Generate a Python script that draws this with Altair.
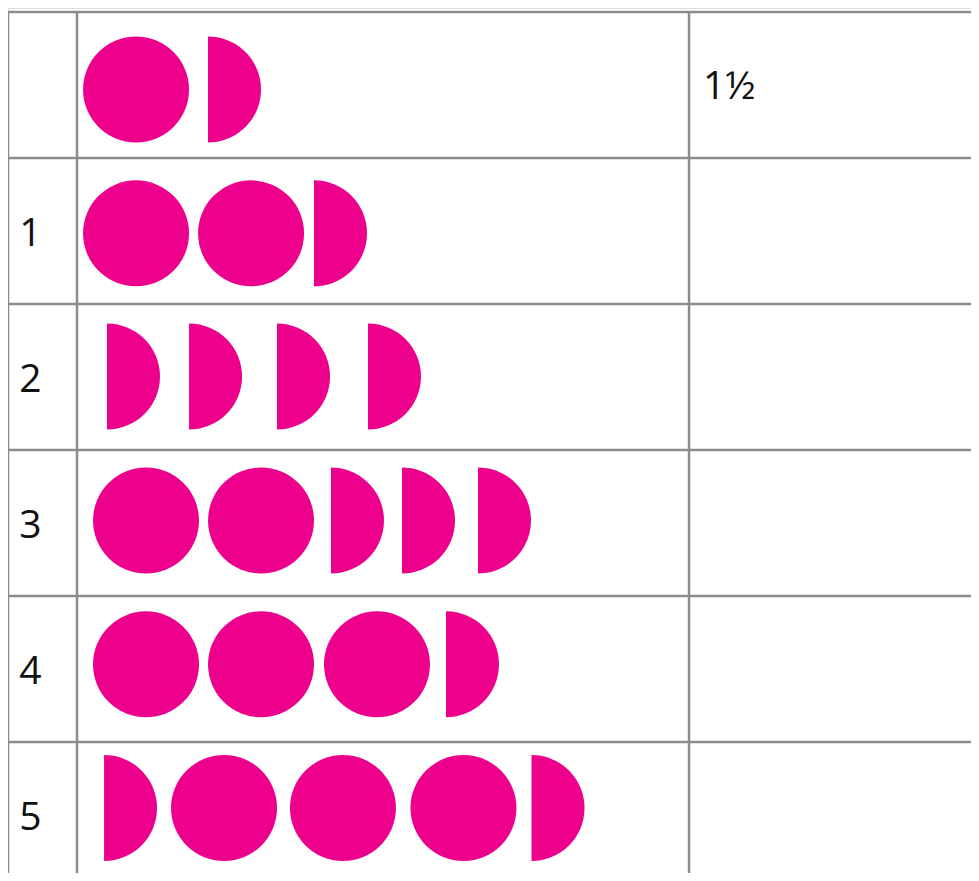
import altair as alt
import pandas as pd

# ---- data ----
row_labels = ["", "1", "2", "3", "4", "5"]
answers = ["1½", "", "", "", "", ""]

# kind of each piece in a row: a whole disc or a half disc
row_kinds = [
    ["whole", "half"],
    ["whole", "whole", "half"],
    ["half", "half", "half", "half"],
    ["whole", "whole", "half", "half", "half"],
    ["whole", "whole", "whole", "half"],
    ["half", "whole", "whole", "whole", "half"],
]
# horizontal place of each piece, in disc diameters from the first column line
row_slots = [
    [0.557, 1.236],
    [0.557, 1.642, 2.236],
    [0.283, 1.057, 1.887, 2.745],
    [0.651, 1.736, 2.396, 3.066, 3.783],
    [0.651, 1.736, 2.830, 3.481],
    [0.255, 1.387, 2.509, 3.646, 4.288],
]
# vertical middle of the pieces of each row, in row units
row_centres = [0.531, 1.516, 2.497, 3.483, 4.468, 5.452]

column_edges = [-0.651, 0.0, 5.774]
row_edges = [0, 1, 2, 3, 4, 5]

# ---- tables ----
pieces = pd.DataFrame(
    [
        {"row": r, "kind": k, "slot": s, "centre": row_centres[r]}
        for r, (kinds, slots) in enumerate(zip(row_kinds, row_slots))
        for k, s in zip(kinds, slots)
    ]
)
labels = pd.DataFrame(
    {"label": row_labels, "answer": answers, "mid": [i + 0.5 for i in range(len(row_labels))]}
)
vlines = pd.DataFrame({"x": column_edges, "y0": [0] * len(column_edges), "y1": [6] * len(column_edges)})
hlines = pd.DataFrame({"y": row_edges})

W, H = 963, 865
xs = alt.Scale(domain=[-0.651, 8.434], nice=False, zero=False)
ys = alt.Scale(domain=[-0.0274, 5.897], nice=False, zero=False, reverse=True)

GRID = "#8c8c8c"
PINK = "#EC008C"
HALF = "M0,-1A1,1 0 0 1 0,1Z"

v_rules = alt.Chart(vlines).mark_rule(color=GRID, strokeWidth=2.5).encode(
    x=alt.X("x:Q", scale=xs, axis=None),
    y=alt.Y("y0:Q", scale=ys, axis=None),
    y2="y1:Q",
)
h_rules = alt.Chart(hlines).mark_rule(color=GRID, strokeWidth=2.5).encode(
    y=alt.Y("y:Q", scale=ys, axis=None),
)

discs = alt.Chart(pieces).mark_point(
    filled=True, opacity=1, size=106 * 106, color=PINK, strokeWidth=0
).encode(
    x=alt.X("slot:Q", scale=xs, axis=None),
    y=alt.Y("centre:Q", scale=ys, axis=None),
    shape=alt.Shape(
        "kind:N",
        scale=alt.Scale(domain=["whole", "half"], range=["circle", HALF]),
        legend=None,
    ),
)

row_text = alt.Chart(labels).mark_text(
    font="Open Sans", fontSize=39, color="#111111", align="center", baseline="alphabetic", dy=15
).encode(
    x=alt.X(datum=-0.439, scale=xs, axis=None),
    y=alt.Y("mid:Q", scale=ys, axis=None),
    text="label:N",
)

answer_text = alt.Chart(labels).mark_text(
    font="Open Sans", fontSize=39, color="#111111", align="left", baseline="alphabetic", dy=14
).encode(
    x=alt.X(datum=5.906, scale=xs, axis=None),
    y=alt.Y("mid:Q", scale=ys, axis=None),
    text="answer:N",
)

chart = (
    alt.layer(v_rules, h_rules, discs, row_text, answer_text)
    .properties(width=W, height=H, padding=0, autosize=alt.AutoSizeParams(type="none"))
    .configure_view(strokeWidth=0)
    .configure(background="white")
)

chart.save("out.html", embed_options={"renderer": "svg", "actions": False})
